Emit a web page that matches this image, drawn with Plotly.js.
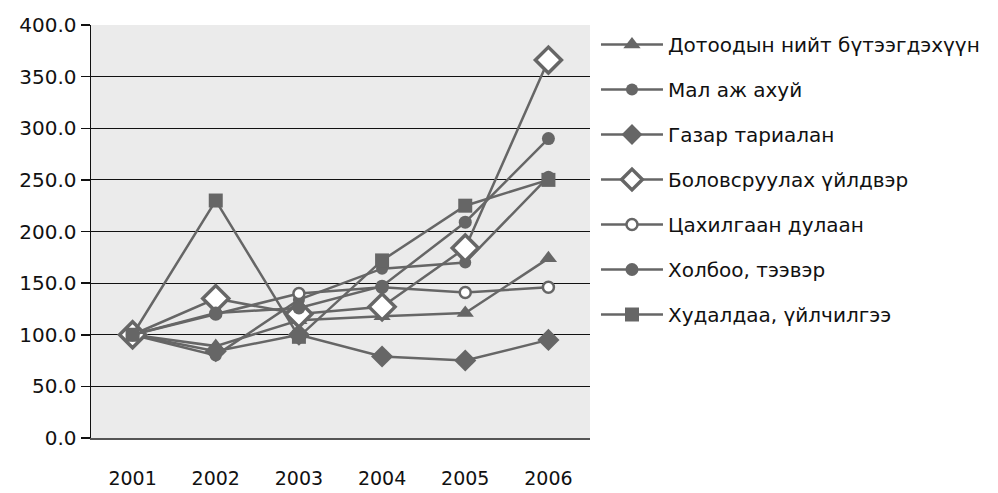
<!DOCTYPE html>
<html>
<head>
<meta charset="utf-8">
<script src="https://cdn.plot.ly/plotly-3.0.1.min.js"></script>
<style>html,body{margin:0;padding:0;background:#fff;}#chart{width:998px;height:493px;}</style>
</head>
<body>
<div id="chart"></div>
<script>
const years = ['2001', '2002', '2003', '2004', '2005', '2006'];
const seriesNames = [
  'Дотоодын нийт бүтээгдэхүүн',
  'Мал аж ахуй',
  'Газар тариалан',
  'Боловсруулах үйлдвэр',
  'Цахилгаан дулаан',
  'Холбоо, тээвэр',
  'Худалдаа, үйлчилгээ'
];
const gdp        = [100, 89, 114, 118, 121, 174];
const livestock  = [100, 80, 134, 164, 170, 253];
const crops      = [100, 84, 100, 79, 75, 95];
const processing = [100, 135, 120, 127, 184, 366];
const power      = [100, 120, 140, 146, 141, 146];
const transport  = [100, 121, 126, 147, 209, 290];
const trade      = [100, 230, 98, 172, 225, 250];
const yTicks = [0, 50, 100, 150, 200, 250, 300, 350, 400];

const C = '#666666';
const values = [gdp, livestock, crops, processing, power, transport, trade];
const markers = [
  {symbol: 'triangle-up', size: 15, color: C},
  {symbol: 'circle', size: 12, color: C},
  {symbol: 'diamond', size: 17, color: C},
  {symbol: 'diamond', size: 20, color: '#ffffff', line: {color: C, width: 3.5}},
  {symbol: 'circle', size: 11, color: '#ffffff', line: {color: C, width: 2.5}},
  {symbol: 'circle', size: 13, color: C},
  {symbol: 'square', size: 14, color: C}
];

const traces = values.map((v, i) => ({
  type: 'scatter',
  mode: 'lines+markers',
  x: years,
  y: v,
  name: seriesNames[i],
  legendgroup: 'g' + i,
  line: {color: C, width: 2.5},
  marker: markers[i],
  cliponaxis: false
}));

const font = 'DejaVu Sans, Arial, sans-serif';
const layout = {
  width: 998,
  height: 493,
  margin: {l: 91, r: 408, t: 25, b: 55},
  paper_bgcolor: '#ffffff',
  plot_bgcolor: '#ebebeb',
  showlegend: true,
  legend: {
    x: 1.012, xanchor: 'left', y: 1.0, yanchor: 'top',
    font: {family: font, size: 20, color: '#111'},
    itemwidth: 62,
    tracegroupgap: 16,
    bgcolor: 'rgba(0,0,0,0)'
  },
  xaxis: {
    type: 'category',
    range: [-0.5, 5.5],
    showgrid: false,
    showline: true,
    linecolor: '#555',
    linewidth: 2,
    ticks: '',
    ticklabelstandoff: 22,
    tickfont: {family: font, size: 19, color: '#111'},
    fixedrange: true
  },
  yaxis: {
    range: [0, 400],
    tickvals: yTicks,
    tickformat: '.1f',
    showgrid: true,
    gridcolor: '#111',
    gridwidth: 1.2,
    zeroline: false,
    showline: true,
    linecolor: '#111',
    linewidth: 1.5,
    ticks: 'outside',
    ticklen: 9,
    tickcolor: '#111',
    tickwidth: 1.5,
    tickfont: {family: font, size: 20, color: '#111'},
    fixedrange: true
  }
};

Plotly.newPlot('chart', traces, layout, {displayModeBar: false, staticPlot: true});
</script>
</body>
</html>
